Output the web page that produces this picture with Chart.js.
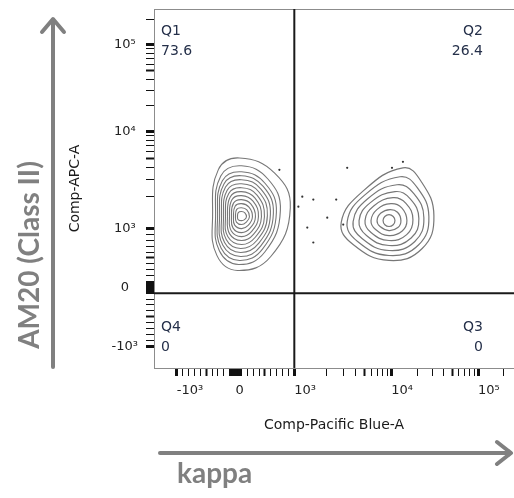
<!DOCTYPE html>
<html>
<head>
<meta charset="utf-8">
<script src="https://cdn.jsdelivr.net/npm/chart.js@4.4.1/dist/chart.umd.min.js"></script>
<style>
  body { margin: 0; background: #fff; }
  #wrap { position: relative; width: 514px; height: 498px; overflow: hidden; }
  #flow { position: absolute; left: 0; top: 0; }
  #arrows { position: absolute; left: 0; top: 0; }
  .tag {
    position: absolute;
    font-family: Lato, "Open Sans", sans-serif;
    font-weight: 700;
    font-size: 28px;
    line-height: 1;
    color: #808080;
    white-space: nowrap;
  }
  #yTag { left: 28px; top: 255px; transform: translate(-50%, -50%) rotate(-90deg); }
  #xTag { left: 177px; top: 458px; }
</style>
</head>
<body>
<div id="wrap">
  <canvas id="flow" width="514" height="498"></canvas>
  <svg id="arrows" width="514" height="498">
    <g stroke="#808080" stroke-width="4" fill="none" stroke-linecap="round" stroke-linejoin="round">
      <line x1="53" y1="367" x2="53" y2="20"/>
      <polyline points="42,32 53,19 64,32"/>
      <line x1="160" y1="453" x2="510" y2="453"/>
      <polyline points="497,442 511,453 497,464"/>
    </g>
  </svg>
  <div class="tag" id="yTag">AM20 (Class II)</div>
  <div class="tag" id="xTag">kappa</div>
</div>
<script>
// axis limits, in fluorescence units
const xRange = [-1620, 262144];
const yRange = [-1590, 262144];

// labelled ticks
const tickValues = [-1000, 0, 1000, 10000, 100000];
const tickLabels = ['-10³', '0', '10³', '10⁴', '10⁵'];
// unlabelled ticks: each decade times 1..9
const minorBases = [-100, -10, 10, 100, 1000, 10000, 100000];

// quadrant gate
const gateX = 1000;
const gateY = -100;
const quadrantNames = ['Q1', 'Q2', 'Q3', 'Q4'];
const quadrantPercents = ['73.6', '26.4', '0', '0'];

// contour levels, inner to outer, [Pacific Blue, APC]
const q1Rings = [
  [[186,1280],[159,1390],[102,1429],[47,1398],[34,1280],[44,1205],[102,1178],[153,1202]],
  [[237,1280],[193,1482],[102,1556],[20,1498],[0,1280],[15,1143],[102,1086],[183,1141]],
  [[288,1280],[229,1578],[102,1702],[-7,1607],[-34,1280],[-14,1073],[102,1000],[214,1066]],
  [[339,1280],[263,1688],[102,1866],[-34,1722],[-68,1280],[-42,1010],[102,932],[244,1004]],
  [[390,1280],[298,1800],[102,2042],[-61,1858],[-102,1280],[-71,959],[102,864],[275,953]],
  [[441,1280],[332,1930],[102,2244],[-88,1996],[-136,1280],[-100,910],[102,797],[305,902]],
  [[492,1280],[366,2066],[102,2460],[-115,2148],[-170,1280],[-129,861],[102,729],[336,853]],
  [[542,1309],[402,2210],[102,2704],[-142,2318],[-203,1280],[-158,814],[85,661],[366,802]],
  [[593,1338],[436,2370],[102,2979],[-170,2495],[-237,1280],[-186,764],[85,593],[397,753]],
  [[644,1368],[471,2535],[102,3281],[-197,2690],[-271,1280],[-215,715],[85,525],[427,702]],
  [[695,1398],[505,2720],[102,3614],[-224,2910],[-305,1280],[-244,666],[68,458],[458,651]],
  [[763,1460],[551,3030],[102,4190],[-251,3265],[-339,1280],[-273,617],[51,390],[498,602]],
  [[932,1556],[666,3500],[68,5105],[-292,3810],[-390,1280],[-317,544],[34,288],[600,525]]
];

const q2Rings = [
  [[11020,1178],[10530,1285],[9441,1338],[8470,1285],[8091,1178],[8470,1081],[9441,1043],[10530,1081]],
  [[12880,1178],[11770,1408],[9680,1492],[7650,1383],[6934,1178],[7490,1043],[9441,966],[11890,1021]],
  [[15070,1178],[13160,1550],[9931,1702],[6950,1498],[5943,1178],[6680,983],[9441,881],[13330,958]],
  [[17660,1202],[14690,1714],[10471,1950],[6364,1618],[5105,1178],[5943,932],[9441,797],[14990,898]],
  [[20650,1228],[16450,1900],[11020,2244],[5850,1742],[4395,1178],[5300,881],[9441,712],[16840,839]],
  [[23580,1253],[18090,2138],[11610,2640],[5425,1890],[3793,1155],[4740,831],[9441,627],[18570,780]],
  [[26920,1280],[19800,2460],[12560,3200],[5055,2066],[3281,1155],[4240,780],[9441,542],[20440,720]],
  [[30770,1309],[21780,2890],[13580,3981],[4815,2255],[2838,1132],[3793,729],[9441,458],[22550,661]]
];

// events outside the lowest contour
const strayX = [746, 1178, 1492, 1086, 2518, 2042, 1309, 1492, 2979, 3281, 10200, 13580];
const strayY = [3793, 1996, 1866, 1590, 1866, 1253, 1021, 763, 1086, 3981, 3981, 4624];

// biexponential-style display transform: linear around zero, log beyond ±10^3
function biex(v) {
  const a = Math.abs(v);
  if (a <= 1000) return v * 0.059;
  const d = 59 + 86 * Math.log10(a / 1000) + 12.5 * (1 - 1000 / a);
  return Math.sign(v) * d;
}

function axisTicks(lo, hi) {
  const out = tickValues.map((v, i) => ({ v, label: tickLabels[i], kind: 2 }));
  minorBases.forEach(b => {
    for (let m = 1; m <= 9; m++) {
      const v = b * m;
      if (v < lo || v > hi || tickValues.includes(v)) continue;
      out.push({ v, label: '', kind: m === 5 ? 1 : 0 });
    }
  });
  return out.sort((a, b) => a.v - b.v);
}

const xTicks = axisTicks(xRange[0], xRange[1]);
const yTicks = axisTicks(yRange[0], yRange[1]);
const tickWidths = [1, 2, 3];

const pt = (x, y) => ({ x: biex(x), y: biex(y) });

function ringSets(rings, width) {
  return rings.map(r => ({
    type: 'line',
    closed: true,
    data: r.map(p => pt(p[0], p[1])),
    borderColor: '#777',
    borderWidth: width,
    pointRadius: 0,
    tension: 0.45,
    fill: false
  }));
}

const datasets = [
  ...ringSets(q1Rings, 1.1),
  ...ringSets(q2Rings, 1.2),
  {
    type: 'scatter',
    data: strayX.map((x, i) => pt(x, strayY[i])),
    pointRadius: 1.1,
    pointBorderWidth: 0,
    backgroundColor: '#333'
  },
  {
    type: 'line',
    data: [pt(gateX, yRange[0]), pt(gateX, yRange[1])],
    borderColor: '#1a1a1a', borderWidth: 2, pointRadius: 0, tension: 0
  },
  {
    type: 'line',
    data: [pt(xRange[0], gateY), pt(xRange[1], gateY)],
    borderColor: '#1a1a1a', borderWidth: 2, pointRadius: 0, tension: 0
  }
];

// contour lines are closed paths: tell the line element to loop back to its first point
const closeRings = {
  id: 'closeRings',
  beforeDatasetsUpdate(chart) {
    chart.data.datasets.forEach((ds, i) => {
      const line = chart.getDatasetMeta(i).dataset;
      if (ds.closed && line) {
        line._loop = true;
        line._fullLoop = true;
      }
    });
  }
};

// top/right plot frame plus the quadrant names and percentages
const plotDecor = {
  id: 'plotDecor',
  beforeDatasetsDraw(chart) {
    const { ctx, chartArea: a } = chart;
    ctx.save();
    ctx.strokeStyle = '#8c8c8c';
    ctx.lineWidth = 1;
    ctx.strokeRect(a.left + 0.5, a.top + 0.5, a.right - a.left, a.bottom - a.top);
    ctx.restore();
  },
  afterDatasetsDraw(chart) {
    const { ctx, chartArea: a } = chart;
    const left = a.left + 7;
    const right = a.right - 31;
    ctx.save();
    ctx.font = '14px "DejaVu Sans"';
    ctx.fillStyle = '#25304a';
    ctx.textBaseline = 'middle';
    const spots = [
      [left, a.top + 22, 'left'],
      [right, a.top + 22, 'right'],
      [right, a.bottom - 41, 'right'],
      [left, a.bottom - 41, 'left']
    ];
    spots.forEach(([x, y, align], i) => {
      ctx.textAlign = align;
      ctx.fillText(quadrantNames[i], x, y);
      ctx.fillText(quadrantPercents[i], x, y + 20);
    });
    ctx.restore();
  }
};

const tickFont = { family: 'DejaVu Sans', size: 13 };
const titleFont = { family: 'DejaVu Sans', size: 14 };

new Chart(document.getElementById('flow'), {
  type: 'line',
  data: { datasets },
  options: {
    responsive: false,
    animation: false,
    layout: { autoPadding: false, padding: { top: 9, right: 0, bottom: 0, left: 0 } },
    plugins: { legend: { display: false }, tooltip: { enabled: false } },
    scales: {
      x: {
        type: 'linear',
        min: biex(xRange[0]),
        max: biex(xRange[1]),
        afterBuildTicks: s => { s.ticks = xTicks.map(t => ({ value: biex(t.v) })); },
        // fixed box, and no extra room for overhanging tick labels
        afterFit: s => { s.height = 130; s.paddingLeft = 0; s.paddingRight = 0; },
        grid: {
          drawOnChartArea: false,
          tickLength: 8,
          tickColor: '#111',
          tickWidth: c => tickWidths[xTicks[c.index] ? xTicks[c.index].kind : 0]
        },
        border: { display: true, color: '#8c8c8c', width: 1 },
        ticks: {
          autoSkip: false,
          maxRotation: 0,
          align: 'start',
          padding: 7,
          color: '#222',
          font: tickFont,
          callback: (v, i) => xTicks[i] ? xTicks[i].label : ''
        },
        title: {
          display: true,
          text: 'Comp-Pacific Blue-A',
          color: '#1a1a1a',
          font: titleFont,
          padding: { top: 0, bottom: 64 }
        }
      },
      y: {
        type: 'linear',
        min: biex(yRange[0]),
        max: biex(yRange[1]),
        afterBuildTicks: s => { s.ticks = yTicks.map(t => ({ value: biex(t.v) })); },
        afterFit: s => { s.width = 154; s.paddingTop = 0; s.paddingBottom = 0; },
        grid: {
          drawOnChartArea: false,
          tickLength: 8,
          tickColor: '#111',
          tickWidth: c => tickWidths[yTicks[c.index] ? yTicks[c.index].kind : 0]
        },
        border: { display: true, color: '#8c8c8c', width: 1 },
        ticks: {
          autoSkip: false,
          crossAlign: 'center',
          padding: 8,
          color: '#222',
          font: tickFont,
          callback: (v, i) => yTicks[i] ? yTicks[i].label : ''
        },
        title: {
          display: true,
          text: 'Comp-APC-A',
          color: '#1a1a1a',
          font: titleFont,
          padding: { top: 67, bottom: 0 }
        }
      }
    }
  },
  plugins: [closeRings, plotDecor]
});
</script>
</body>
</html>
